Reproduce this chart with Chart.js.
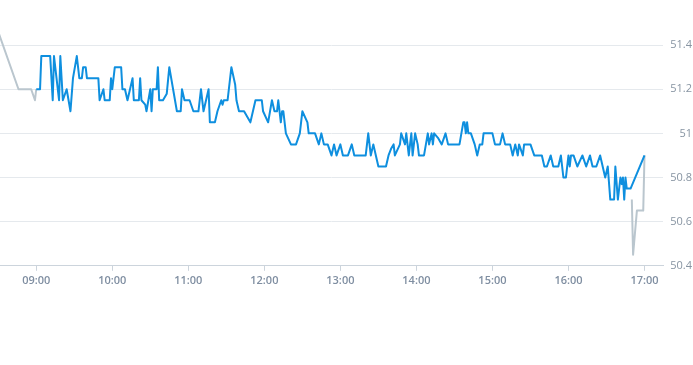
<!DOCTYPE html>
<html>
<head>
<meta charset="utf-8">
<script src="https://cdn.jsdelivr.net/npm/chart.js@4"></script>
<style>
  html, body { margin: 0; padding: 0; background: #fff; }
  #wrap { width: 693px; height: 365px; }
</style>
</head>
<body>
<div id="wrap"><canvas id="priceChart"></canvas></div>
<script>
const preTimes  = ['08:30', '08:46', '08:56', '08:59', '09:00'];
const prePrices = [51.46, 51.2, 51.2, 51.15, 51.2];

const dayTimes = [
  '09:00','09:03','09:04','09:11','09:13','09:14','09:16','09:18','09:19','09:21',
  '09:24','09:27','09:29','09:32','09:34','09:36','09:37','09:39','09:40','09:49',
  '09:50','09:53','09:54','09:58','09:59','10:00','10:02','10:07','10:08','10:10',
  '10:12','10:16','10:17','10:21','10:22','10:23','10:26','10:27','10:30','10:31',
  '10:32','10:35','10:36','10:37','10:40','10:43','10:45','10:48','10:51','10:54',
  '10:55','10:57','11:01','11:04','11:08','11:10','11:12','11:16','11:17','11:21',
  '11:23','11:26','11:27','11:28','11:31','11:34','11:37','11:38','11:40','11:44',
  '11:49','11:53','11:58','11:59','12:03','12:06','12:08','12:10','12:11','12:13',
  '12:14','12:15','12:17','12:21','12:25','12:28','12:30','12:34','12:35','12:40',
  '12:43','12:45','12:47','12:50','12:53','12:55','12:57','13:00','13:02','13:06',
  '13:09','13:11','13:20','13:22','13:24','13:26','13:28','13:30','13:36','13:38',
  '13:40','13:42','13:43','13:47','13:48','13:51','13:52','13:54','13:56','13:57',
  '13:59','14:01','14:02','14:06','14:09','14:10','14:12','14:13','14:14','14:17',
  '14:20','14:23','14:25','14:34','14:37','14:38','14:39','14:40','14:41','14:43',
  '14:46','14:48','14:50','14:52','14:53','15:00','15:02','15:06','15:08','15:10',
  '15:14','15:16','15:18','15:20','15:21','15:24','15:25','15:30','15:33','15:39',
  '15:41','15:43','15:46','15:48','15:52','15:54','15:56','15:58','16:00','16:01',
  '16:02','16:04','16:07','16:11','16:14','16:17','16:19','16:22','16:25','16:27',
  '16:29','16:31','16:33','16:36','16:37','16:39','16:41','16:42','16:43','16:44',
  '16:45','16:46','16:49','17:00'
];
const dayPrices = [
  51.2, 51.2, 51.35, 51.35, 51.15, 51.35, 51.25, 51.15, 51.35, 51.15,
  51.2, 51.1, 51.25, 51.35, 51.25, 51.25, 51.3, 51.3, 51.25, 51.25,
  51.15, 51.2, 51.15, 51.15, 51.25, 51.2, 51.3, 51.3, 51.2, 51.2,
  51.15, 51.25, 51.15, 51.15, 51.25, 51.15, 51.13, 51.1, 51.2, 51.1,
  51.2, 51.2, 51.3, 51.15, 51.15, 51.18, 51.3, 51.2, 51.1, 51.1,
  51.2, 51.15, 51.15, 51.1, 51.1, 51.2, 51.1, 51.2, 51.05, 51.05,
  51.1, 51.15, 51.13, 51.15, 51.15, 51.3, 51.22, 51.15, 51.1, 51.1,
  51.05, 51.15, 51.15, 51.1, 51.05, 51.15, 51.1, 51.1, 51.15, 51.05,
  51.1, 51.1, 51.0, 50.95, 50.95, 51.0, 51.1, 51.05, 51.0, 51.0,
  50.95, 51.0, 50.95, 50.95, 50.9, 50.95, 50.9, 50.95, 50.9, 50.9,
  50.95, 50.9, 50.9, 51.0, 50.9, 50.95, 50.9, 50.85, 50.85, 50.9,
  50.93, 50.95, 50.9, 50.95, 51.0, 50.95, 51.0, 50.9, 51.0, 50.9,
  51.0, 50.95, 50.9, 50.9, 51.0, 50.95, 51.0, 50.95, 51.0, 50.98,
  50.95, 51.0, 50.95, 50.95, 51.05, 51.05, 51.0, 51.05, 51.0, 51.0,
  50.95, 50.9, 50.95, 50.95, 51.0, 51.0, 50.95, 50.95, 51.0, 50.95,
  50.95, 50.9, 50.95, 50.9, 50.95, 50.9, 50.95, 50.95, 50.9, 50.9,
  50.85, 50.85, 50.9, 50.85, 50.85, 50.9, 50.8, 50.8, 50.9, 50.85,
  50.9, 50.9, 50.85, 50.9, 50.85, 50.9, 50.85, 50.85, 50.9, 50.85,
  50.8, 50.85, 50.7, 50.7, 50.85, 50.7, 50.8, 50.77, 50.8, 50.7,
  50.8, 50.75, 50.75, 50.9
];

const postTimes  = ['16:50', '16:51', '16:54', '16:59', '17:00'];
const postPrices = [50.7, 50.45, 50.65, 50.65, 50.9];

const xTickLabels = ['09:00','10:00','11:00','12:00','13:00','14:00','15:00','16:00','17:00'];
const yTickValues = [50.4, 50.6, 50.8, 51, 51.2, 51.4];

// ——— helpers ———
function toMin(t) {
  const [h, m] = t.split(':').map(Number);
  return h * 60 + m;
}
function points(times, prices) {
  return times.map((t, i) => ({ x: toMin(t), y: prices[i] }));
}

const grey = '#bac6ce';
const blue = '#0e8fdf';
const axisGrey = '#ccd4dc';

new Chart(document.getElementById('priceChart'), {
  type: 'line',
  data: {
    datasets: [
      { data: points(dayTimes, dayPrices), borderColor: blue, borderWidth: 2 },
      { data: points(preTimes, prePrices), borderColor: grey, borderWidth: 2 },
      { data: points(postTimes, postPrices), borderColor: grey, borderWidth: 2 }
    ]
  },
  options: {
    responsive: true,
    maintainAspectRatio: false,
    animation: false,
    events: [],
    parsing: false,
    elements: { point: { radius: 0 }, line: { tension: 0, borderJoinStyle: 'round' } },
    layout: { padding: { top: 23, right: 1, bottom: 75, left: 0 } },
    plugins: { legend: { display: false }, tooltip: { enabled: false } },
    scales: {
      x: {
        type: 'linear',
        min: 511.4,
        max: 1034.6,
        afterBuildTicks: s => { s.ticks = xTickLabels.map(t => ({ value: toMin(t) })); },
        grid: { drawOnChartArea: false, drawTicks: true, tickLength: 5, color: axisGrey },
        border: { display: true, color: axisGrey },
        ticks: {
          maxRotation: 0,
          autoSkip: false,
          padding: 3,
          color: '#7f8ea1',
          font: { family: 'Open Sans', size: 11, weight: '600' },
          callback: (v, i) => xTickLabels[i]
        }
      },
      y: {
        position: 'right',
        min: 50.4,
        max: 51.5,
        afterBuildTicks: s => { s.ticks = yTickValues.map(v => ({ value: v })); },
        afterFit: s => { s.width = 29; },
        grid: { color: '#e5e9ed', drawTicks: false },
        border: { display: false },
        ticks: {
          padding: 8,
          crossAlign: 'far',
          color: '#8794a2',
          font: { family: 'Open Sans', size: 11 },
          callback: v => String(v)
        }
      }
    }
  }
});
</script>
</body>
</html>
